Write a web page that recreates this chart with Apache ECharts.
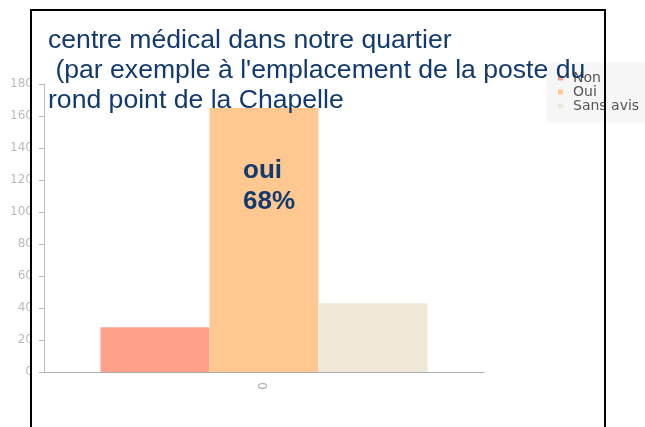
<!DOCTYPE html>
<html>
<head>
<meta charset="utf-8">
<script src="https://cdn.jsdelivr.net/npm/echarts@6/dist/echarts.min.js"></script>
<style>
html,body{margin:0;padding:0;background:#fff;}
#main{width:645px;height:427px;}
</style>
</head>
<body>
<div id="main"></div>
<script>
// données
var categories = ['0'];
var seriesNames = ['Non', 'Oui', 'Sans avis'];
var seriesColors = ['#ffa08a', '#ffc891', '#efe8d8'];
var nonValues = [28];
var ouiValues = [165];
var sansAvisValues = [43];
var yTicks = { min: 0, max: 180, interval: 20 };

var chart = echarts.init(document.getElementById('main'));

var allValues = [nonValues, ouiValues, sansAvisValues];
var series = seriesNames.map(function (name, i) {
  return {
    name: name,
    type: 'bar',
    data: allValues[i],
    barGap: 0,
    barCategoryGap: '25.7%',
    itemStyle: { color: seriesColors[i] },
    z: 2
  };
});

var option = {
  animation: false,
  textStyle: { fontFamily: '"DejaVu Sans", sans-serif' },
  grid: { left: 44, right: 161, top: 84, bottom: 55 },
  legend: {
    orient: 'vertical',
    left: 547,
    top: 64,
    itemWidth: 5,
    itemHeight: 5,
    itemGap: 0,
    padding: [7, 12, 8, 11],
    backgroundColor: '#f6f6f6',
    shadowColor: 'rgba(0,0,0,0.08)',
    shadowBlur: 3,
    icon: 'rect',
    textStyle: { fontSize: 14, color: '#555', lineHeight: 13, padding: [0, 0, 0, 5] },
    data: seriesNames
  },
  xAxis: {
    type: 'category',
    data: categories,
    axisLine: { lineStyle: { color: '#aaa' } },
    axisTick: { alignWithLabel: true, length: 5, lineStyle: { color: '#aaa' } },
    axisLabel: { rotate: 90, color: '#aaa', fontSize: 12, margin: 10 }
  },
  yAxis: {
    type: 'value',
    min: yTicks.min,
    max: yTicks.max,
    interval: yTicks.interval,
    splitLine: { show: false },
    axisLine: { show: true, lineStyle: { color: '#bbb' } },
    axisTick: { show: true, length: 5, lineStyle: { color: '#bbb' } },
    axisLabel: { color: '#bbb', fontSize: 12, margin: 11 }
  },
  series: series,
  graphic: [
    {
      type: 'rect',
      shape: { x: 31, y: 10, width: 574, height: 430 },
      style: { fill: 'none', stroke: '#000', lineWidth: 2 },
      z: 100
    },
    {
      type: 'text',
      left: 48,
      top: 26,
      z: 101,
      style: {
        text: 'centre médical dans notre quartier\n (par exemple à l\'emplacement de la poste du\nrond point de la Chapelle',
        fill: '#123a6e',
        font: '26.6px "Liberation Sans", Arial, sans-serif',
        lineHeight: 30
      }
    },
    {
      type: 'text',
      left: 243,
      top: 155,
      z: 101,
      style: {
        text: 'oui\n68%',
        fill: '#123a6e',
        font: 'bold 26px "Liberation Sans", Arial, sans-serif',
        lineHeight: 31
      }
    }
  ]
};

chart.setOption(option);
</script>
</body>
</html>
